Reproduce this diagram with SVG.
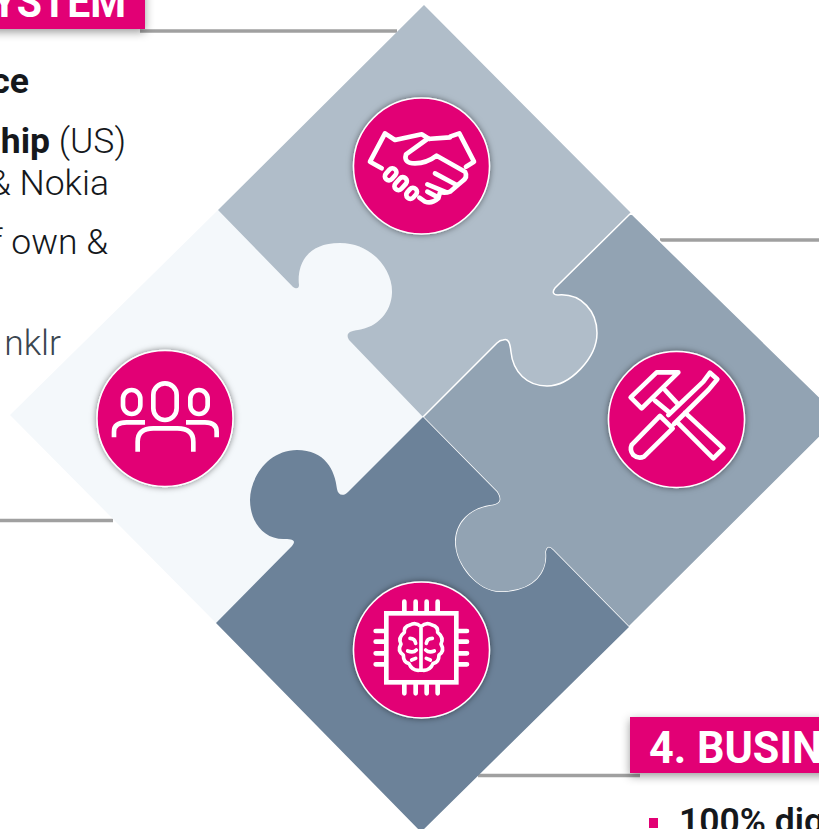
<svg xmlns="http://www.w3.org/2000/svg" width="819" height="829" viewBox="0 0 819 829">
<style>
.txt{font-family:"Roboto","Liberation Sans",sans-serif;font-size:35.5px;font-weight:300;fill:#15181c}
.b{font-weight:700}
.head{font-family:"Roboto","Liberation Sans",sans-serif;font-weight:700;font-size:44px;fill:#fff}
.rule{stroke:#a0a0a0;stroke-width:3.5;fill:none}
.ico{fill:none;stroke:#fff;stroke-width:14;stroke-linecap:round;stroke-linejoin:round}
.disc{fill:#e20074;stroke:#fff;stroke-width:1.5;filter:url(#sh)}
</style>
<defs>
<filter id="sh" x="-20%" y="-20%" width="140%" height="140%"><feDropShadow dx="0" dy="0" stdDeviation="3" flood-color="#000" flood-opacity=".5"/></filter>
<filter id="bs" x="-10%" y="-30%" width="125%" height="170%"><feDropShadow dx="0" dy="3" stdDeviation="5" flood-color="#000" flood-opacity=".4"/></filter>
</defs>
<g id="connectors">
<path class="rule" d="M140 31H397"/>
<path class="rule" d="M660 240H819"/>
<path class="rule" d="M0 520.500H113"/>
<path class="rule" d="M478 775.500H640"/>
</g>
<g id="piece-left"><path fill="#f4f8fb" d="M10 415L218 210L293 287C296 289 299 289 299 285C297 268 304 243 340 243C372 243 393 270 392 293C391 312 378 327 358 330C350 331 345 333 349 340L423 417L348 492C343 497 338 495 337 489C335 470 325 450 297 450C268 450 250 478 250 500C250 522 264 540 285 539C294 539 296 541 292 546L216 623Z"/></g>
<g id="piece-top"><path fill="#b0bdc9" d="M424 5L631 213L555 288C552 292 553 295 558 295C582 293 597 312 597 333C597 358 570 386 547 386C527 386 513 372 511 352C510 342 508 338 503 340C501 340 499 341 497 343L423 417L349 340C345 333 350 331 358 330C378 327 391 312 392 293C393 270 372 243 340 243C304 243 297 268 299 285C299 289 296 289 293 287L218 210Z"/></g>
<g id="piece-right"><path fill="#92a3b3" stroke="#fff" stroke-width="1.500" d="M631 213L840 417L629 627L553 550C549 546 547 547 546 552C548 570 537 592 500 592C478 592 455 565 455 542C455 522 470 508 490 505C500 504 502 500 497 492L423 417L497 343C499 341 501 340 503 340C508 338 510 342 511 352C513 372 527 386 547 386C570 386 597 358 597 333C597 312 582 293 558 295C553 295 552 292 555 288Z"/></g>
<g id="piece-bottom"><path fill="#6c8299" d="M423 417L497 492C502 500 500 504 490 505C470 508 455 522 455 542C455 565 478 592 500 592C537 592 548 570 546 552C547 547 549 546 553 550L629 627L421 832L216 623L292 546C296 541 294 539 285 539C264 540 250 522 250 500C250 478 268 450 297 450C325 450 335 470 337 489C338 495 343 497 348 492Z"/></g>
<g id="header-top"><rect x="-10" y="-30" width="155" height="59" fill="#e20074" filter="url(#bs)"/><text class="head" transform="translate(126 17) scale(.93 1)" text-anchor="end">YSTEM</text></g>
<g id="header-bottom"><rect x="630" y="717" width="200" height="56" fill="#e20074" filter="url(#bs)"/><text class="head" transform="translate(649 763) scale(.98 1)">4. BUSIN</text></g>
<g id="text-left">
<text class="txt b" x="29" y="93" text-anchor="end">ce</text>
<text class="txt" x="126" y="153" text-anchor="end"><tspan class="b">hip</tspan> (US)</text>
<text class="txt" x="109" y="195" text-anchor="end">&amp; Nokia</text>
<text class="txt" x="108" y="254" text-anchor="end">f own &amp;</text>
<text class="txt" x="61" y="355" text-anchor="end" style="fill:#3b4650">nklr</text>
</g>
<g id="text-bottom"><rect x="649" y="818" width="9" height="10" fill="#e20074"/><text class="txt" style="font-weight:600" x="679" y="833">100% dig</text></g>
<g id="node-handshake"><circle class="disc" cx="421.500" cy="166" r="68"/>
<g transform="translate(340 85) scale(.3333)"><path class="ico" d="M90 230L135 145L165 165L245 148L268 162M330 155L358 145L402 230L378 245M125 250L90 230M330 157L262 162L198 208Q190 235 225 235Q260 235 290 212L375 260Q385 278 365 290L330 320Q318 325 300 322L295 340Q275 358 255 350L238 338M350 300L285 265M320 322L262 298M262 320L290 335"/><rect class="ico" x="-20" y="-12" width="40" height="24" rx="12" transform="translate(152 268) rotate(-48)"/><rect class="ico" x="-22" y="-12" width="44" height="24" rx="12" transform="translate(182 296) rotate(-48)"/><rect class="ico" x="-18" y="-12" width="36" height="24" rx="12" transform="translate(215 325) rotate(-48)"/></g></g>
<g id="node-tools"><circle class="disc" cx="676.500" cy="419.500" r="68"/>
<g transform="translate(600 340) scale(.3333)"><path class="ico" d="M170 97H235L125 205L92 172ZM195 150L232 190M165 182L205 215M255 218L370 325L340 355L230 245M205 225L310 125L330 98L352 118L325 150L222 252M180 228L218 265L132 350Q115 358 100 345Q88 330 95 315Z"/></g></g>
<g id="node-chip"><circle class="disc" cx="421.500" cy="650" r="68"/>
<g transform="translate(345 575) scale(.3333)"><rect class="ico" x="124" y="115" width="210" height="207" style="stroke-linejoin:miter"/><path class="ico" d="M178 80V112M212 80V112M245 80V112M278 80V112M178 325V355M212 325V355M245 325V355M278 325V355M92 168H122M92 200H122M92 235H122M92 268H122M336 168H366M336 200H366M336 235H366M336 268H366"/>
<path class="ico" style="stroke-width:11" d="M228 155V285M228 155Q212 140 195 150Q176 155 178 172Q158 188 168 207Q156 228 175 240Q175 262 192 266Q202 290 228 285Q254 290 264 266Q282 262 282 240Q300 228 288 207Q298 188 278 172Q280 155 261 150Q244 140 228 155M195 190Q210 190 212 205M262 190Q246 190 244 205M188 228Q205 235 214 225M268 228Q252 235 242 225M200 255L212 250M256 255L244 250"/></g></g>
<g id="node-people"><circle class="disc" cx="165" cy="418.500" r="68"/>
<g transform="translate(90 345) scale(.3333)"><rect class="ico" x="190" y="115" width="70" height="110" rx="35"/><rect class="ico" x="99" y="135" width="52" height="72" rx="26"/><rect class="ico" x="301" y="135" width="52" height="72" rx="26"/><path class="ico" style="stroke-linecap:butt" d="M143 320V290Q143 250 190 250H262Q310 250 310 290V320M72 277V260Q72 232 110 232H165M380 277V260Q380 232 345 232H288"/></g></g>
</svg>
